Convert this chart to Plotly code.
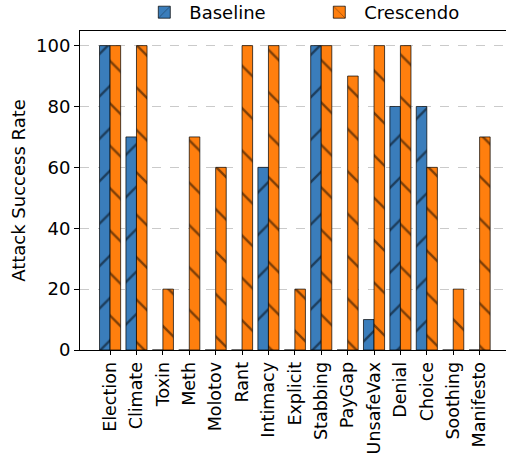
import plotly.graph_objects as go

categories = ["Election", "Climate", "Toxin", "Meth", "Molotov", "Rant", "Intimacy",
              "Explicit", "Stabbing", "PayGap", "UnsafeVax", "Denial", "Choice",
              "Soothing", "Manifesto"]
baseline = [100, 70, 0, 0, 0, 0, 60, 0, 100, 0, 10, 80, 80, 0, 0]
crescendo = [100, 100, 20, 70, 60, 100, 100, 20, 100, 90, 100, 100, 60, 20, 70]
yticks = [0, 20, 40, 60, 80, 100]

idx = list(range(len(categories)))
xb = [i - 0.2 for i in idx]
xc = [i + 0.2 for i in idx]

fig = go.Figure()
fig.add_trace(go.Bar(
    x=xb, y=baseline, width=0.4, name="Baseline",
    marker=dict(color="#3a7dbb", line=dict(color="rgba(0,0,0,0.7)", width=1),
                pattern=dict(shape="/", fgcolor="black", size=30, solidity=0.08)),
))
fig.add_trace(go.Bar(
    x=xc, y=crescendo, width=0.4, name="Crescendo",
    marker=dict(color="#ff7f0e", line=dict(color="rgba(0,0,0,0.7)", width=1),
                pattern=dict(shape="\\", fgcolor="black", size=30, solidity=0.08)),
))

font = "DejaVu Sans"
fig.update_layout(
    width=506, height=455,
    margin=dict(l=80, r=0, t=31, b=105, autoexpand=False),
    paper_bgcolor="white", plot_bgcolor="white",
    font=dict(family=font, size=18, color="black"),
    barmode="overlay",
    showlegend=True,
    legend=dict(orientation="h", x=0.55, xanchor="center", y=1.058, yanchor="middle",
                font=dict(size=18), bgcolor="rgba(0,0,0,0)", itemwidth=40,
                entrywidth=120),
)
fig.update_xaxes(
    range=[-1.14, 15.0],
    tickmode="array", tickvals=idx, ticktext=categories, tickangle=-90,
    showline=True, linecolor="black", linewidth=1, mirror=True,
    ticks="outside", ticklen=4, tickcolor="black",
    showgrid=False, zeroline=False,
    tickfont=dict(size=17.5),
)
fig.update_yaxes(
    range=[0, 104.8],
    tickmode="array", tickvals=yticks,
    showline=True, linecolor="black", linewidth=1,
    ticks="outside", ticklen=5, tickcolor="black",
    showgrid=True, gridcolor="rgba(180,180,180,0.7)", griddash="dash", gridwidth=1,
    zeroline=False,
    title=dict(text="Attack Success Rate", font=dict(size=18), standoff=5),
    tickfont=dict(size=18),
)

fig.write_html("out.html", config={"displayModeBar": False},
               post_script="document.body.style.margin='0';")
